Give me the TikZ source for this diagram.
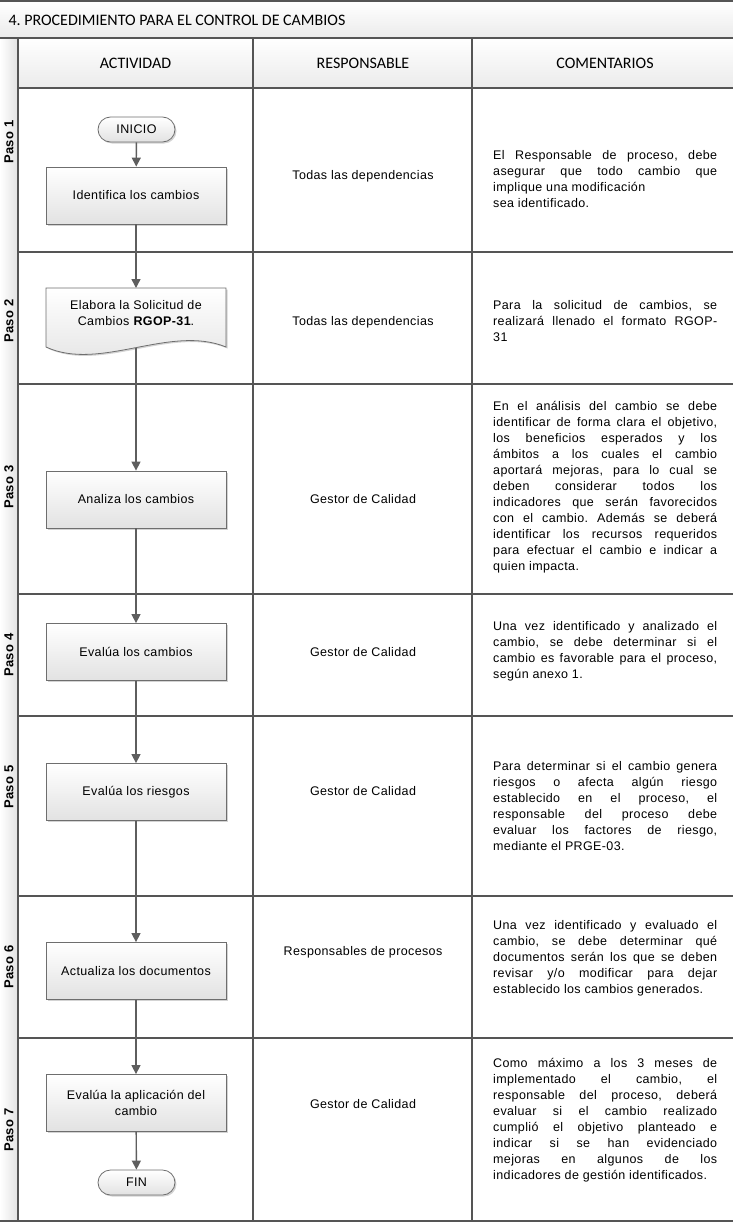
\documentclass[tikz,border=0pt]{standalone}
\usepackage{fontspec}
\setmainfont{Liberation Sans}[LetterSpace=3]
\newfontfamily\calfont{Carlito}
\usetikzlibrary{arrows.meta,shadows}
\definecolor{ln}{HTML}{555555}
\definecolor{bx}{HTML}{6E6E6E}
\definecolor{shd}{HTML}{E2E2E2}
\definecolor{arr}{HTML}{5E5E5E}
\definecolor{band}{HTML}{EBEBEB}
\hbadness=10000
\hyphenpenalty=10000
\frenchspacing
\tikzset{
  body/.style={font=\fontsize{12.5}{16}\selectfont},
  stepbox/.style={draw=bx, line width=0.8pt, top color=white, bottom color=shd,
    minimum width=180pt, minimum height=57pt, inner sep=2pt, align=center, body,
    drop shadow={shadow xshift=1.5pt, shadow yshift=-1.5pt, opacity=0.35, fill=gray}},
  term/.style={stepbox, minimum width=77pt, minimum height=25pt, rounded corners=12.5pt},
  flow/.style={draw=arr, line width=1.4pt, -{Triangle[length=9pt,width=9pt]}},
  cmt/.style={anchor=west, inner sep=0pt, text width=224pt, align=justify, body},
  resp/.style={body},
  paso/.style={rotate=90, font=\fontsize{13}{14}\selectfont\bfseries},
  hdr/.style={font=\calfont\fontsize{16}{18}\selectfont},
  grid/.style={draw=ln, line width=1.2pt}
}
\begin{document}
\begin{tikzpicture}[x=1pt,y=-1pt]
\useasboundingbox (0,0) rectangle (733,1223);
% title band
\shade[top color=white, bottom color=band] (0,1) rectangle (733,38);
\node[hdr, anchor=west] (title) at (5,20) {4. PROCEDIMIENTO PARA EL CONTROL DE CAMBIOS};
% header row and left column
\shade[top color=white, bottom color=band] (18,38) rectangle (733,88);
\shade[left color=white, right color=shd] (0,38) rectangle (18,1221);
% grid lines
\draw[grid] (0,1) -- (733,1);
\draw[grid] (0,38) -- (733,38);
\draw[grid] (18,88) -- (733,88);
\foreach \yy in {252,384,594,716,896,1038} {\draw[grid] (18,\yy) -- (733,\yy);}
\draw[grid] (0,1221) -- (733,1221);
\draw[grid] (18,38) -- (18,1221);
\draw[grid] (253,38) -- (253,1221);
\draw[grid] (472,38) -- (472,1221);
% headers
\node[hdr] (hact) at (135.5,63) {ACTIVIDAD};
\node[hdr] (hres) at (363,63) {RESPONSABLE};
\node[hdr] (hcom) at (605,63) {COMENTARIOS};
% paso labels
\node[paso] (p1) at (9,142) {Paso 1};
\node[paso] (p2) at (9,321) {Paso 2};
\node[paso] (p3) at (9,487) {Paso 3};
\node[paso] (p4) at (9,655) {Paso 4};
\node[paso] (p5) at (9,787) {Paso 5};
\node[paso] (p6) at (9,967) {Paso 6};
\node[paso] (p7) at (9,1130) {Paso 7};
% flow shapes
\node[term] (ini) at (136.5,129.5) {INICIO};
\node[stepbox] (id) at (136,195.5) {Identifica los cambios};
\path[draw=bx, line width=0.8pt, top color=white, bottom color=shd,
  drop shadow={shadow xshift=1.5pt, shadow yshift=-1.5pt, opacity=0.35, fill=gray}]
  (46,288) -- (226,288) -- (226,347) .. controls (170,324) and (100,372) .. (46,347) -- cycle;
\coordinate (doctop) at (136,288);
\coordinate (docbot) at (136,348);
\node[body, align=center] (doc) at (136,313.5) {Elabora la Solicitud de\\Cambios \textbf{RGOP-31}.};
\node[stepbox] (ana) at (136,499.5) {Analiza los cambios};
\node[stepbox] (ev1) at (136,652) {Evalúa los cambios};
\node[stepbox] (evr) at (136,792) {Evalúa los riesgos};
\node[stepbox] (act) at (136,971) {Actualiza los documentos};
\node[stepbox] (eva) at (136,1103) {Evalúa la aplicación del\\cambio};
\node[term] (fin) at (136.5,1182.5) {FIN};
% connectors
\draw[flow] (ini) -- (id);
\draw[flow] (id) -- (doctop);
\draw[flow] (docbot) -- (ana);
\draw[flow] (ana) -- (ev1);
\draw[flow] (ev1) -- (evr);
\draw[flow] (evr) -- (act);
\draw[flow] (act) -- (eva);
\draw[flow] (eva) -- (fin);
% responsables
\node[resp] (r1) at (363,176) {Todas las dependencias};
\node[resp] (r2) at (363,322) {Todas las dependencias};
\node[resp] (r3) at (363,499) {Gestor de Calidad};
\node[resp] (r4) at (363,652) {Gestor de Calidad};
\node[resp] (r5) at (363,791) {Gestor de Calidad};
\node[resp] (r6) at (363,952) {Responsables de procesos};
\node[resp] (r7) at (363,1104) {Gestor de Calidad};
% comentarios
\node[cmt] (c1) at (493,179) {El Responsable de proceso, debe\linebreak asegurar que todo cambio que\linebreak implique una modificación\\ sea identificado.};
\node[cmt] (c2) at (493,321.5) {Para la solicitud de cambios, se\linebreak realizará llenado el formato RGOP-\linebreak 31};
\node[cmt] (c3) at (493,487) {En el análisis del cambio se debe\linebreak identificar de forma clara el objetivo,\linebreak los beneficios esperados y los\linebreak ámbitos a los cuales el cambio\linebreak aportará mejoras, para lo cual se\linebreak deben considerar todos los\linebreak indicadores que serán favorecidos\linebreak con el cambio. Además se deberá\linebreak identificar los recursos requeridos\linebreak para efectuar el cambio e indicar a\linebreak quien impacta.};
\node[cmt] (c4) at (493,651) {Una vez identificado y analizado el\linebreak cambio, se debe determinar si el\linebreak cambio es favorable para el proceso,\linebreak según anexo 1.};
\node[cmt] (c5) at (493,806) {Para determinar si el cambio genera\linebreak riesgos o afecta algún riesgo\linebreak establecido en el proceso, el\linebreak responsable del proceso debe\linebreak evaluar los factores de riesgo,\linebreak mediante el PRGE-03.};
\node[cmt] (c6) at (493,958) {Una vez identificado y evaluado el\linebreak cambio, se debe determinar qué\linebreak documentos serán los que se deben\linebreak revisar y/o modificar para dejar\linebreak establecido los cambios generados.};
\node[cmt] (c7) at (493,1120) {Como máximo a los 3 meses de\linebreak implementado el cambio, el\linebreak responsable del proceso, deberá\linebreak evaluar si el cambio realizado\linebreak cumplió el objetivo planteado e\linebreak indicar si se han evidenciado\linebreak mejoras en algunos de los\linebreak indicadores de gestión identificados.};
\end{tikzpicture}
\end{document}
